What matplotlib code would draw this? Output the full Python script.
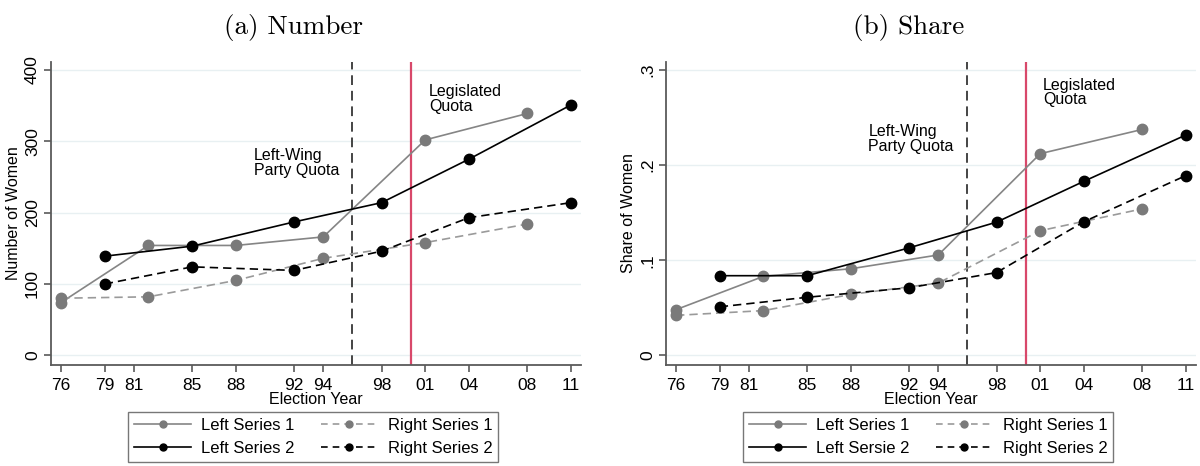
import matplotlib
matplotlib.use("Agg")
import matplotlib.pyplot as plt
from matplotlib.lines import Line2D

# ---- data ----
years_gray = [1976, 1982, 1988, 1994, 2001, 2008]
years_black = [1979, 1985, 1992, 1998, 2004, 2011]

num_left1 = [74, 154, 154, 166, 302, 339]
num_right1 = [80, 82, 105, 136, 158, 184]
num_left2 = [139, 153, 187, 214, 275, 351]
num_right2 = [100, 124, 119, 146, 193, 214]

share_left1 = [0.048, 0.083, 0.091, 0.1055, 0.212, 0.2375]
share_right1 = [0.042, 0.047, 0.064, 0.076, 0.131, 0.154]
share_left2 = [0.0837, 0.0837, 0.113, 0.140, 0.183, 0.2317]
share_right2 = [0.051, 0.061, 0.071, 0.087, 0.1405, 0.189]

tick_years = [1976, 1979, 1981, 1985, 1988, 1992, 1994, 1998, 2001, 2004, 2008, 2011]
tick_labels = ["76", "79", "81", "85", "88", "92", "94", "98", "01", "04", "08", "11"]

party_quota_year = 1996
legislated_year = 2000

num_yticks = [0, 100, 200, 300, 400]
num_ylabels = ["0", "100", "200", "300", "400"]
share_yticks = [0, 0.1, 0.2, 0.3]
share_ylabels = ["0", ".1", ".2", ".3"]

legend_left = ["Left Series 1", "Left Series 2", "Right Series 1", "Right Series 2"]
legend_right = ["Left Series 1", "Left Sersie 2", "Right Series 1", "Right Series 2"]

# ---- style ----
plt.rcParams['font.family'] = ['Liberation Sans', 'DejaVu Sans']
GRAY = '#858585'
GRAY_D = '#9a9a9a'
BLACK = '#000000'
RED = '#d8486a'
SPINE = '#5a5a5a'
GRID = '#e8f0f2'

fig = plt.figure(figsize=(12, 4.66), dpi=100)
axL = fig.add_axes([51/1200, 1-365/466, 530/1200, 303/466])
axR = fig.add_axes([666/1200, 1-365/466, 530/1200, 303/466])


def draw(ax, l1, r1, l2, r2, yticks, ylabels, ylim, ylabel, title, legend_labels, txt1, txt2):
    for y in yticks:
        ax.axhline(y, color=GRID, lw=1.0, zorder=0)
    ax.axvline(party_quota_year, color='#444444', lw=1.4, ls=(0, (5, 3)), zorder=1)
    ax.axvline(legislated_year, color=RED, lw=1.6, zorder=1)
    ms = 7.5
    ax.plot(years_gray, l1, color=GRAY, lw=1.2, marker='o', ms=ms,
            mfc='#7a7a7a', mec='#7a7a7a', zorder=3)
    ax.plot(years_gray, r1, color=GRAY_D, lw=1.2, ls=(0, (5, 3)), marker='o', ms=ms,
            mfc='#7a7a7a', mec='#7a7a7a', zorder=3)
    ax.plot(years_black, l2, color=BLACK, lw=1.2, marker='o', ms=ms,
            mfc=BLACK, mec=BLACK, zorder=4)
    ax.plot(years_black, r2, color=BLACK, lw=1.2, ls=(0, (5, 3)), marker='o', ms=ms,
            mfc=BLACK, mec=BLACK, zorder=4)

    ax.set_xlim(1975.31, 2011.69)
    ax.set_ylim(*ylim)
    ax.set_xticks(tick_years)
    ax.set_xticklabels(tick_labels, fontsize=12.5)
    ax.set_yticks(yticks)
    ax.set_yticklabels(ylabels, fontsize=12.5, rotation=90, va='center')
    for s in ['top', 'right']:
        ax.spines[s].set_visible(False)
    for s in ['left', 'bottom']:
        ax.spines[s].set_color(SPINE)
        ax.spines[s].set_linewidth(1.3)
    ax.tick_params(axis='x', color=SPINE, length=5, width=1.2, pad=4)
    ax.tick_params(axis='y', color=SPINE, length=5, width=1.2, pad=3)
    ax.set_xlabel("Election Year", fontsize=11.5, labelpad=0)
    ax.set_ylabel(ylabel, fontsize=11.5, labelpad=3)
    ax.text(0.4575, 1.115, title, transform=ax.transAxes, fontsize=19.5,
            family='cmr10', ha='center', va='center')

    ax.text(txt1[0], txt1[1], "Left-Wing\nParty Quota", fontsize=11.5, va='top', ha='left',
            linespacing=0.95)
    ax.text(txt2[0], txt2[1], "Legislated\nQuota", fontsize=11.5, va='top', ha='left',
            linespacing=0.95)

    hs = [Line2D([], [], color=GRAY, lw=1.2, marker='o', ms=5, mfc='#7a7a7a', mec='#7a7a7a'),
          Line2D([], [], color=BLACK, lw=1.2, marker='o', ms=5, mfc=BLACK, mec=BLACK),
          Line2D([], [], color=GRAY_D, lw=1.2, ls=(0, (4, 3)), marker='o', ms=5, mfc='#7a7a7a', mec='#7a7a7a'),
          Line2D([], [], color=BLACK, lw=1.2, ls=(0, (4, 3)), marker='o', ms=5, mfc=BLACK, mec=BLACK)]
    leg = ax.legend(hs, legend_labels, ncol=2, loc='upper center',
                    bbox_to_anchor=(0.495, -0.155), fontsize=12, frameon=True,
                    fancybox=False, edgecolor='#555555', handlelength=3.4,
                    columnspacing=1.6, labelspacing=0.5, handletextpad=0.6,
                    borderpad=0.35, borderaxespad=0)
    leg.get_frame().set_linewidth(1.0)


draw(axL, num_left1, num_right1, num_left2, num_right2, num_yticks, num_ylabels,
     (-13.6, 411.2), "Number of Women", "(a) Number", legend_left,
     (1989.25, 290), (2001.25, 380))
draw(axR, share_left1, share_right1, share_left2, share_right2, share_yticks, share_ylabels,
     (-0.0102, 0.3084), "Share of Women", "(b) Share", legend_right,
     (1989.2, 0.243), (2001.2, 0.292))

fig.savefig("out.png", dpi=100)
